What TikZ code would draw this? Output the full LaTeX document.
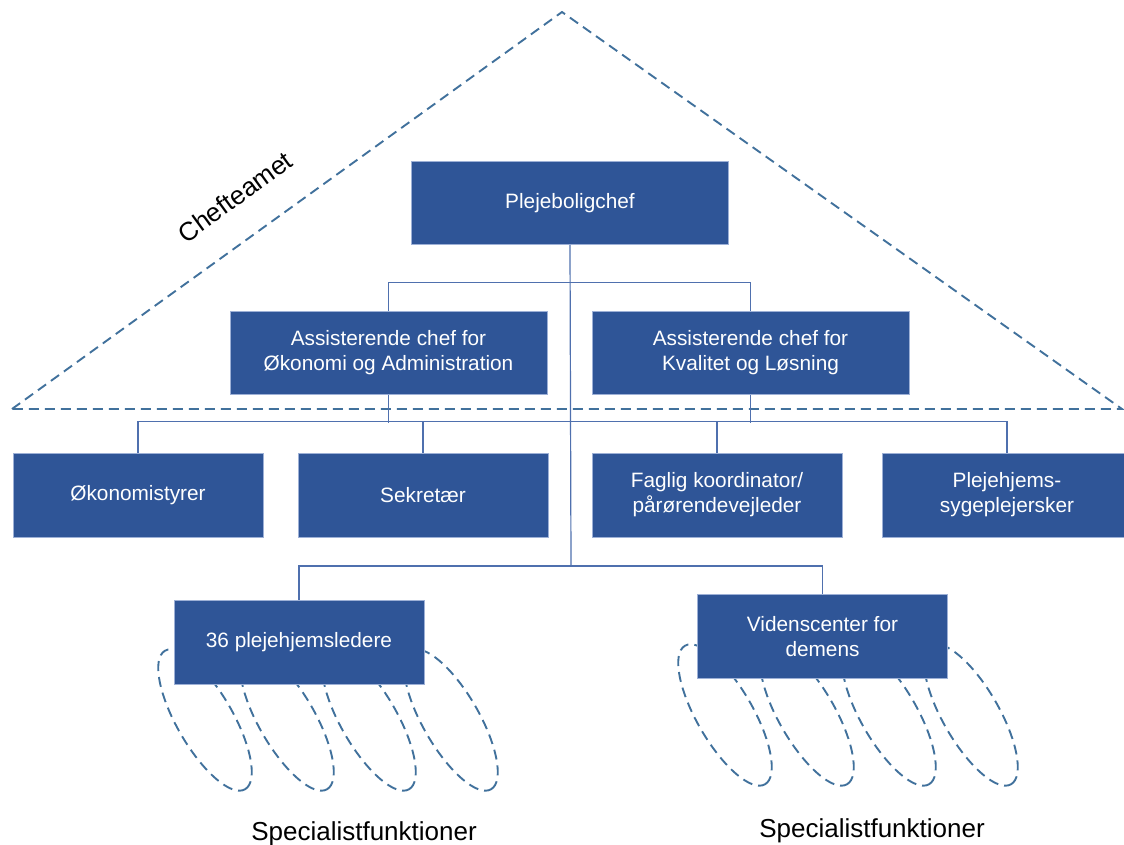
\documentclass[tikz,border=0pt]{standalone}
\usepackage{fontspec}
\usepackage{xcolor}
\setmainfont{Liberation Sans}
\usetikzlibrary{positioning}

\definecolor{boxblue}{HTML}{2F5597}
\definecolor{edgeblue}{HTML}{9DB0D6}
\definecolor{linkblue}{HTML}{4F70AE}
\definecolor{dashblue}{HTML}{41719C}

\tikzset{
  box/.style={fill=boxblue, draw=edgeblue, line width=0.5pt, text=white, align=center,
    inner sep=0pt, minimum height=41.5pt, font=\fontsize{10.4}{12.6}\selectfont},
  wide/.style={box, minimum width=158.5pt},
  small/.style={box, minimum width=125pt, minimum height=42pt},
  link/.style={draw=linkblue, line width=0.6pt},
  border/.style={draw=dashblue, line width=0.95pt, dash pattern=on 5pt off 3pt},
  bigtext/.style={font=\fontsize{13}{15}\selectfont}
}

\begin{document}
\begin{tikzpicture}[x=0.5pt, y=-0.5pt]
\useasboundingbox (0,0) rectangle (1124,845);

\draw[border] (12,409) -- (562,12) -- (1122,409) -- cycle;
\node[bigtext, rotate=36] (team) at (235,197) {Chefteamet};

\foreach \x in {205,287,369,451}
  \draw[border, rotate around={-60:(\x,720)}] (\x,720) ellipse [x radius=40pt, y radius=14pt];
\foreach \x in {725,807,889,971}
  \draw[border, rotate around={-60:(\x,715)}] (\x,715) ellipse [x radius=40pt, y radius=14pt];

\node[wide] (chef) at (570,203) {Plejeboligchef};
\node[wide] (oek) at (388.5,352.5) {Assisterende chef for\\Økonomi og Administration};
\node[wide] (kval) at (750.5,352.5) {Assisterende chef for\\Kvalitet og Løsning};
\node[small] (styr) at (138,495) {Økonomistyrer};
\node[small] (sekr) at (423,495) {Sekretær};
\node[small] (fagl) at (717,495) {Faglig koordinator/\\pårørendevejleder};
\node[small] (syge) at (1007,495) {Plejehjems-\\sygeplejersker};
\node[small] (leder) at (299,642) {36 plejehjemsledere};
\node[small] (viden) at (822.5,636.5) {Videnscenter for\\demens};

\coordinate (hub) at (571,566);
\draw[link] (oek.north) -- ++(0,-28) -| (kval.north);
\draw[link] (chef.south) -- (hub);
\draw[link] (leder.north) |- (hub) -| (viden.north);
\draw[link] (styr.north) -- ++(0,-31) -| (syge.north);
\draw[link] (oek.south) -- ++(0,28);
\draw[link] (kval.south) -- ++(0,28);
\draw[link] (sekr.north) -- ++(0,-31);
\draw[link] (fagl.north) -- ++(0,-31);

\node[bigtext, anchor=base] (spec1) at (364,840) {Specialistfunktioner};
\node[bigtext, anchor=base] (spec2) at (872,837) {Specialistfunktioner};

\end{tikzpicture}
\end{document}
